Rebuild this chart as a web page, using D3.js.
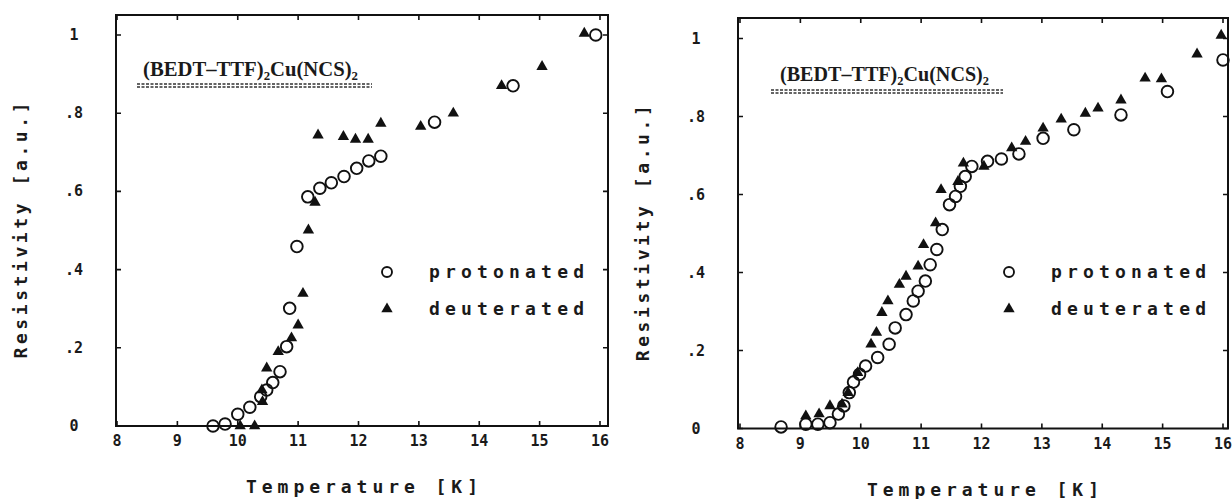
<!DOCTYPE html>
<html>
<head>
<meta charset="utf-8">
<script src="https://cdn.jsdelivr.net/npm/d3@7"></script>
<style>
  body { margin: 0; background: #fff; }
  text { fill: #1a1a1a; }
</style>
</head>
<body>
<svg id="chart" width="1232" height="499"></svg>
<script>
// data: [temperature K, resistivity a.u.]
var leftProtonated = [
  [9.59, 0.0], [9.79, 0.005], [10.00, 0.03], [10.20, 0.048], [10.38, 0.075],
  [10.48, 0.092], [10.58, 0.111], [10.70, 0.139], [10.81, 0.203], [10.86, 0.301],
  [10.98, 0.459], [11.16, 0.586], [11.36, 0.608], [11.55, 0.622], [11.76, 0.638],
  [11.97, 0.659], [12.17, 0.678], [12.37, 0.69], [13.26, 0.777], [14.56, 0.870],
  [15.93, 1.0]
];
var leftDeuterated = [
  [10.04, 0.0], [10.28, 0.0], [10.41, 0.062], [10.40, 0.092], [10.48, 0.148],
  [10.67, 0.19], [10.89, 0.225], [11.00, 0.258], [11.08, 0.339], [11.17, 0.501],
  [11.28, 0.572], [11.33, 0.744], [11.75, 0.74], [11.95, 0.733], [12.16, 0.733],
  [12.37, 0.774], [13.03, 0.766], [13.57, 0.80], [14.37, 0.870], [15.04, 0.919],
  [15.74, 1.004]
];
var rightProtonated = [
  [8.68, 0.004], [9.09, 0.011], [9.29, 0.011], [9.49, 0.015], [9.63, 0.037],
  [9.72, 0.058], [9.81, 0.092], [9.88, 0.119], [9.98, 0.139], [10.08, 0.160],
  [10.28, 0.182], [10.47, 0.216], [10.57, 0.258], [10.75, 0.292], [10.87, 0.327],
  [10.95, 0.352], [11.07, 0.378], [11.15, 0.420], [11.26, 0.459], [11.35, 0.510],
  [11.47, 0.574], [11.57, 0.595], [11.65, 0.621], [11.73, 0.646], [11.84, 0.672],
  [12.10, 0.685], [12.33, 0.691], [12.62, 0.704], [13.02, 0.744], [13.53, 0.766],
  [14.31, 0.804], [15.08, 0.864], [16.0, 0.945]
];
var rightDeuterated = [
  [9.09, 0.032], [9.31, 0.037], [9.49, 0.058], [9.69, 0.062], [9.79, 0.092],
  [9.95, 0.143], [10.17, 0.216], [10.26, 0.246], [10.35, 0.297], [10.45, 0.327],
  [10.64, 0.369], [10.75, 0.390], [10.95, 0.416], [11.04, 0.471], [11.24, 0.527],
  [11.33, 0.612], [11.61, 0.633], [11.70, 0.680], [12.04, 0.672], [12.50, 0.719],
  [12.73, 0.736], [13.02, 0.770], [13.32, 0.793], [13.72, 0.808], [13.93, 0.821],
  [14.31, 0.842], [14.71, 0.898], [14.98, 0.896], [15.57, 0.960], [15.97, 1.008]
];

var xTicks = [8, 9, 10, 11, 12, 13, 14, 15, 16];
var yTicks = [0, 0.2, 0.4, 0.6, 0.8, 1];
var yTickLabels = ["0", ".2", ".4", ".6", ".8", "1"];
var legendLabels = ["protonated", "deuterated"];
var xTitle = "Temperature [K]";
var yTitle = "Resistivity [a.u.]";

var svg = d3.select("#chart");
var ink = "#111";
var mono = "'DejaVu Sans Mono', monospace";

// frame/scale placement of each panel (pixels)
var panels = [
  { x8: 117, x16: 600, left: 116, right: 608, y0: 426, y1: 35, top: 15,
    titleX: 143, titleY: 76, titleW: 215, ulX1: 137, ulX2: 372, ulY: 84,
    prot: leftProtonated, deut: leftDeuterated },
  { x8: 740, x16: 1223, left: 738, right: 1228, y0: 428.5, y1: 38.5, top: 18,
    titleX: 780, titleY: 81, titleW: 209, ulX1: 771, ulX2: 1003, ulY: 90,
    prot: rightProtonated, deut: rightDeuterated }
];

panels.forEach(drawPanel);

function drawPanel(p){
  var x = d3.scaleLinear().domain([8, 16]).range([p.x8, p.x16]),
      y = d3.scaleLinear().domain([0, 1]).range([p.y0, p.y1]);
  var g = svg.append("g");

  // frame
  g.append("rect")
    .attr("x", p.left).attr("y", p.top)
    .attr("width", p.right - p.left).attr("height", p.y0 - p.top)
    .attr("fill", "none").attr("stroke", ink).attr("stroke-width", 2);

  // inward ticks on all four sides
  var tl = 5;
  g.selectAll(".xt").data(xTicks).enter().append("path")
    .attr("d", function(d){ return "M" + x(d) + "," + p.y0 + "v" + (-tl) + "M" + x(d) + "," + p.top + "v" + tl; })
    .attr("stroke", ink).attr("stroke-width", 1.6);
  g.selectAll(".yt").data(yTicks).enter().append("path")
    .attr("d", function(d){ return "M" + p.left + "," + y(d) + "h" + tl + "M" + p.right + "," + y(d) + "h" + (-tl); })
    .attr("stroke", ink).attr("stroke-width", 1.6);

  // tick labels
  g.selectAll(".xl").data(xTicks).enter().append("text")
    .attr("x", function(d){ return x(d); })
    .attr("y", p.y0 + 20)
    .attr("text-anchor", "middle")
    .style("font", "bold 15px " + mono)
    .text(function(d){ return d; });
  g.selectAll(".yl").data(yTicks).enter().append("text")
    .attr("x", p.left - 42)
    .attr("y", function(d){ return y(d) + 5; })
    .attr("text-anchor", "middle")
    .style("font", "bold 15px " + mono)
    .text(function(d, i){ return yTickLabels[i]; });

  // axis titles
  g.append("text")
    .attr("x", (p.left + p.right) / 2 - 116).attr("y", p.y0 + 67)
    .attr("textLength", 232)
    .style("font", "600 18px " + mono)
    .text(xTitle);
  var cy = (p.top + p.y0) / 2 + 10;
  g.append("text")
    .attr("transform", "translate(" + (p.left - 89) + "," + (cy + 128) + ") rotate(-90)")
    .attr("textLength", 256)
    .style("font", "600 18px " + mono)
    .text(yTitle);

  // compound label with its hatched double underline
  var t = g.append("text")
    .attr("x", p.titleX).attr("y", p.titleY)
    .attr("textLength", p.titleW).attr("lengthAdjust", "spacingAndGlyphs")
    .style("font", "bold 21px 'Liberation Serif', serif");
  t.append("tspan").text("(BEDT\u2013TTF)");
  t.append("tspan").attr("dy", 4).style("font-size", "13px").text("2");
  t.append("tspan").attr("dy", -4).text("Cu(NCS)");
  t.append("tspan").attr("dy", 4).style("font-size", "13px").text("2");
  [0, 3].forEach(function(o){
    g.append("line")
      .attr("x1", p.ulX1).attr("x2", p.ulX2)
      .attr("y1", p.ulY + o).attr("y2", p.ulY + o)
      .attr("stroke", "#333").attr("stroke-width", 1.6)
      .attr("stroke-dasharray", "3,1.5");
  });

  // markers
  var tri = d3.symbol().type(d3.symbolTriangle).size(56);
  g.selectAll(".d").data(p.deut).enter().append("path")
    .attr("d", tri)
    .attr("transform", function(d){ return "translate(" + x(d[0]) + "," + y(d[1]) + ")"; })
    .attr("fill", ink);
  g.selectAll(".p").data(p.prot).enter().append("circle")
    .attr("cx", function(d){ return x(d[0]); })
    .attr("cy", function(d){ return y(d[1]); })
    .attr("r", 5.8)
    .attr("fill", "none").attr("stroke", ink).attr("stroke-width", 1.9);

  // legend
  var lx = p.left + 271, ly = 272;
  g.append("circle").attr("cx", lx).attr("cy", ly).attr("r", 5)
    .attr("fill", "none").attr("stroke", ink).attr("stroke-width", 1.9);
  g.append("path").attr("d", tri)
    .attr("transform", "translate(" + lx + "," + (ly + 37) + ")").attr("fill", ink);
  legendLabels.forEach(function(s, i){
    g.append("text")
      .attr("x", lx + 42).attr("y", ly + 6 + i * 37)
      .attr("textLength", 155)
      .style("font", "600 18px " + mono)
      .text(s);
  });
}
</script>
</body>
</html>
